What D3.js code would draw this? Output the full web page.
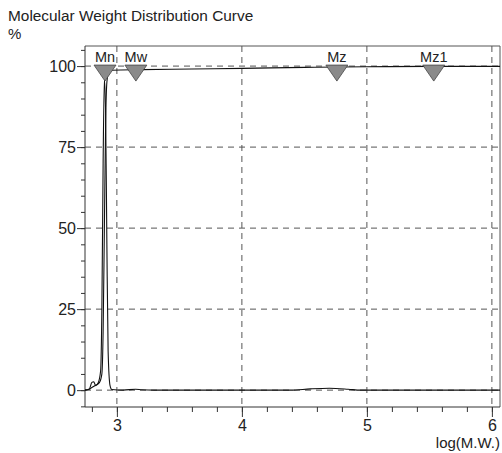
<!DOCTYPE html>
<html lang="en">
<head>
    <meta charset="UTF-8">
    <title>Molecular Weight Distribution Curve</title>
    <script src="https://d3js.org/d3.v7.min.js"></script>
    <style>
        body {
            margin: 0;
            background: white;
            font-family: "Liberation Sans", Arial, sans-serif;
        }
        .grid line {
            stroke: #555;
            stroke-dasharray: 6, 5;
            stroke-width: 1;
        }
        .axis text {
            font-size: 16px;
            fill: #222;
        }
        .axis path, .axis line {
            stroke: #333;
        }
    </style>
</head>
<body>
<div id="chart"></div>
<script>
    // log(M.W.) vs %
    const xTicks = [3, 4, 5, 6];
    const yTicks = [0, 25, 50, 75, 100];

    // cumulative curve
    const cumX = [2.745, 2.78, 2.80, 2.83, 2.86, 2.88, 2.89, 2.90, 2.91, 2.92, 2.935, 2.96, 3.2, 3.6, 4.0, 4.5, 5.0, 5.5, 6.065];
    const cumY = [0, 0.3, 0.8, 1.5, 2.3, 5, 18, 50, 82, 95, 98.2, 98.7, 98.9, 99.1, 99.3, 99.6, 99.8, 99.9, 99.9];

    // differential curve
    const difX = [2.745, 2.78, 2.80, 2.815, 2.83, 2.85, 2.87, 2.88, 2.89, 2.90, 2.91, 2.92, 2.93, 2.945, 2.96, 3.05, 3.15, 3.2, 3.3, 4.39, 4.55, 4.7, 4.85, 4.95, 6.065];
    const difY = [0, 0.4, 2.4, 2.6, 1.4, 2.2, 6, 25, 70, 96, 85, 45, 12, 1.5, 0.2, 0, 0.3, 0.1, 0, 0, 0.4, 0.6, 0.3, 0, 0];

    // average markers
    const markNames = ["Mn", "Mw", "Mz", "Mz1"];
    const markVals = [2.905, 3.152, 4.76, 5.535];

    const W = 502, H = 453;
    const mL = 85, mR = 500, mT = 46, mB = 407;

    const svg = d3.select("#chart").append("svg")
        .attr("width", W)
        .attr("height", H);

    const x = d3.scaleLinear().domain([2.745, 6.065]).range([mL, mR]);
    const y = d3.scaleLinear().domain([-5.2, 106.2]).range([mB, mT]);

    // titles
    svg.append("text")
        .attr("x", 8).attr("y", 21)
        .style("font-size", "15.4px").style("fill", "#222")
        .text("Molecular Weight Distribution Curve");
    svg.append("text")
        .attr("x", 8).attr("y", 39)
        .style("font-size", "15px").style("fill", "#222")
        .text("%");
    svg.append("text")
        .attr("x", 500).attr("y", 448)
        .attr("text-anchor", "end")
        .style("font-size", "15px").style("fill", "#222")
        .text("log(M.W.)");

    // dashed grid
    const grid = svg.append("g").attr("class", "grid");
    grid.selectAll(".vx").data(xTicks).enter().append("line")
        .attr("x1", d => x(d)).attr("x2", d => x(d))
        .attr("y1", mT).attr("y2", mB);
    grid.selectAll(".hy").data(yTicks).enter().append("line")
        .attr("x1", mL).attr("x2", mR)
        .attr("y1", d => y(d)).attr("y2", d => y(d));

    // frame
    svg.append("path")
        .attr("d", `M${mL},${mT}H${mR}V${mB}`)
        .attr("fill", "none")
        .attr("stroke", "#555");

    // y axis
    const yAxis = svg.append("g").attr("class", "axis")
        .attr("transform", `translate(${mL},0)`)
        .call(d3.axisLeft(y).tickValues(yTicks).tickSize(8).tickPadding(1));
    yAxis.select(".domain").attr("d", `M0,${mT}V${mB}`);
    svg.append("g").attr("class", "axis")
        .attr("transform", `translate(${mL},0)`)
        .call(d3.axisLeft(y).tickValues(d3.range(-5, 106, 5)).tickSize(4).tickFormat(""))
        .select(".domain").remove();

    // x axis
    const xAxis = svg.append("g").attr("class", "axis")
        .attr("transform", `translate(0,${mB})`)
        .call(d3.axisBottom(x).tickValues(xTicks).tickSize(10).tickPadding(3).tickFormat(d3.format("d")));
    xAxis.select(".domain").attr("d", `M${mL},0H${mR}`);
    svg.append("g").attr("class", "axis")
        .attr("transform", `translate(0,${mB})`)
        .call(d3.axisBottom(x).tickValues(d3.range(2.8, 6.05, 0.2)).tickSize(5).tickFormat(""))
        .select(".domain").remove();

    // curves
    const line = d3.line().x(d => x(d[0])).y(d => y(d[1])).curve(d3.curveMonotoneX);
    svg.append("path")
        .datum(cumX.map((v, i) => [v, cumY[i]]))
        .attr("d", line)
        .attr("fill", "none").attr("stroke", "#111").attr("stroke-width", 1.1);
    svg.append("path")
        .datum(difX.map((v, i) => [v, difY[i]]))
        .attr("d", line)
        .attr("fill", "none").attr("stroke", "#111").attr("stroke-width", 1.1);

    // markers
    const mk = svg.append("g").selectAll("g")
        .data(markNames.map((n, i) => ({ name: n, v: markVals[i] })))
        .enter().append("g")
        .attr("transform", d => `translate(${x(d.v)},${y(100)})`);
    mk.append("path")
        .attr("d", "M-11,-1L11,-1L0,15Z")
        .attr("fill", "#8a8a8a")
        .attr("stroke", "#444")
        .attr("stroke-width", 0.8);
    mk.append("text")
        .attr("y", -4)
        .attr("text-anchor", "middle")
        .style("font-size", "14.5px").style("fill", "#222")
        .text(d => d.name);
</script>
</body>
</html>
